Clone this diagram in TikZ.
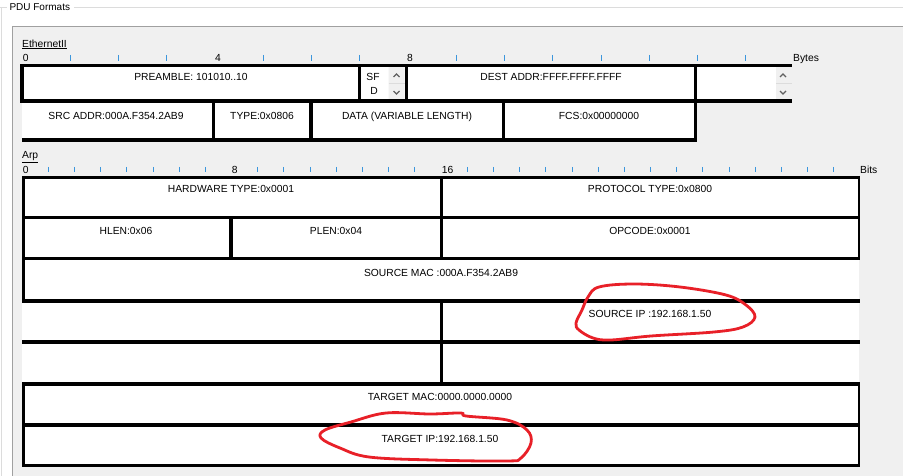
\documentclass[tikz,border=0pt]{standalone}
\usepackage{fontspec}
\setmainfont{Liberation Sans}
\usepackage{xcolor}
\usetikzlibrary{arrows.meta, positioning, calc}
\definecolor{panelgray}{HTML}{F0F0F0}
\definecolor{framegray}{HTML}{DCDCDC}
\definecolor{edgegray}{HTML}{A0A0A0}
\definecolor{tickblue}{HTML}{3C96DC}
\definecolor{inkred}{RGB}{232,32,40}

\begin{document}
\begin{tikzpicture}[x=1pt, y=-1pt,
    every node/.style={inner sep=0pt, font=\fontsize{10.3}{12}\selectfont},
    lbl/.style={anchor=base},
    rulerlbl/.style={anchor=base west},
    bar/.style={line width=3.4pt},
    tick/.style={tickblue, line width=0.9pt},
    chev/.style={gray!75!black, line width=1.2pt},
    loop/.style={inkred, line width=2.8pt, line join=round}]
    \useasboundingbox (0,0) rectangle (903,476);
    \fill[white] (0,0) rectangle (903,476);
    \draw[framegray] (0,7.5) -- (7,7.5) (74,7.5) -- (903,7.5) (1.5,7.5) -- (1.5,476);
    \node[rulerlbl, font=\fontsize{10}{12}\selectfont] (pdu) at (9.3,10.7) {PDU Formats};
    \fill[panelgray] (12,26) rectangle (903,476);
    \draw[edgegray] (12.5,476) -- (12.5,26.5) -- (903,26.5);

    \node[rulerlbl] (eth) at (22,47.2) {\underline{EthernetII}};
    \foreach \k in {1,2,3,5,6,7,9,10,...,15}
        \draw[tick] (22+48.25*\k,55) -- ++(0,5.7);
    \node[rulerlbl] (e0) at (22.7,61.2) {0};
    \node[rulerlbl] (e4) at (215,61.2) {4};
    \node[rulerlbl] (e8) at (407,61.2) {8};
    \node[rulerlbl] (bytes) at (793,61.5) {Bytes};

    \fill[white] (22,65) rectangle (792,101.5) (22,101.5) rectangle (695,140);
    \fill[panelgray] (388.5,67) rectangle (404.5,99.5) (776,67) rectangle (792,99.5);
    \draw[framegray] (388.5,83) -- (404.5,83) (776,83.5) -- (792,83.5);
    \draw[chev] (393.5,77) -- (396.5,74) -- (399.5,77) (393.5,91) -- (396.5,94) -- (399.5,91);
    \draw[chev] (780,77) -- (783,74) -- (786,77) (780,91) -- (783,94) -- (786,91);
    \draw[bar] (20.3,65.5) -- (792,65.5) (20.3,101) -- (792,101) (22,140) -- (697.2,140);
    \draw[bar] (22,65.5) -- (22,101) (359.5,65.5) -- (359.5,101) (406.5,65.5) -- (406.5,101)
        (695.5,65.5) -- (695.5,101);
    \draw[bar] (213.5,101) -- (213.5,140) (311,101) -- (311,140) (503.5,101) -- (503.5,140)
        (695.5,101) -- (695.5,141.7);
    \node[lbl] (preamble) at (191,81) {PREAMBLE: 101010..10};
    \node[lbl] (sf) at (373,80.7) {SF};
    \node[lbl] (d) at (374,94.2) {D};
    \node[lbl] (dest) at (551,81) {DEST ADDR:FFFF.FFFF.FFFF};
    \node[lbl] (src) at (116,119.7) {SRC ADDR:000A.F354.2AB9};
    \node[lbl] (type) at (262,119.7) {TYPE:0x0806};
    \node[lbl] (data) at (407,119.7) {DATA (VARIABLE LENGTH)};
    \node[lbl] (fcs) at (599,119.7) {FCS:0x00000000};

    \node[rulerlbl] (arp) at (22,159) {\underline{Arp}};
    \foreach \k in {1,...,7,9,10,...,15,17,18,...,31}
        \draw[tick] (22+26.19*\k,167) -- ++(0,5.5);
    \node[rulerlbl] (a0) at (22.7,173.3) {0};
    \node[rulerlbl] (a8) at (231.7,173.3) {8};
    \node[rulerlbl] (a16) at (441.7,173.3) {16};
    \node[rulerlbl] (bits) at (860,173.3) {Bits};

    \fill[white] (22,177.5) rectangle (859,466);
    \foreach \y in {177.7,217.3,258.6,301,342,384,425}
        \draw[bar] (22,\y) -- (860,\y);
    \draw[line width=2.4pt] (22,465.5) -- (860,465.5);
    \draw[bar] (23.2,176) -- (23.2,302.7) (23.2,382.3) -- (23.2,466.7);
    \draw[line width=2.4pt] (858.8,176) -- (858.8,260.3) (858.8,382.3) -- (858.8,466.7);
    \draw[bar] (441.7,177.7) -- (441.7,258.6) (441.7,301) -- (441.7,384) (231,217.3) -- (231,258.6);
    \node[lbl] (hwtype) at (231,192.7) {HARDWARE TYPE:0x0001};
    \node[lbl] (prtype) at (650,192.7) {PROTOCOL TYPE:0x0800};
    \node[lbl] (hlen) at (126,234.7) {HLEN:0x06};
    \node[lbl] (plen) at (336,234.7) {PLEN:0x04};
    \node[lbl] (opcode) at (650,234.7) {OPCODE:0x0001};
    \node[lbl] (srcmac) at (441,276.2) {SOURCE MAC :000A.F354.2AB9};
    \node[lbl] (srcip) at (650,317.7) {SOURCE IP :192.168.1.50};
    \node[lbl] (tgtmac) at (440,400.7) {TARGET MAC:0000.0000.0000};
    \node[lbl] (tgtip) at (440,442) {TARGET IP:192.168.1.50};

    \draw[loop] plot[smooth cycle, tension=0.6] coordinates {(588,297) (599,287) (634,284)
        (680,287) (726,295) (746,305) (755,317) (743,327) (714,332) (651,336) (611,340)
        (593,338) (579,330) (576,323) (582,310)};
    \draw[loop] plot[smooth cycle, tension=0.6] coordinates {(386,413) (430,414) (461,413)
        (466,416) (507,420) (527,430) (531,443) (521,458) (507,461) (432,460) (369,457)
        (340,448) (321,438) (325,430) (351,422)};
\end{tikzpicture}
\end{document}
